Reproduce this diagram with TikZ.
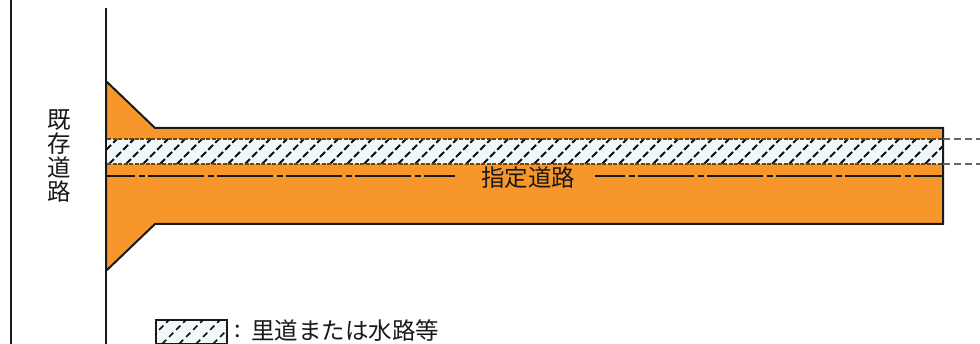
\documentclass[tikz,border=0pt]{standalone}
\usepackage{fontspec}
\newfontfamily\cjk{Noto Sans CJK JP}
\tikzset{
  wall/.style={draw=black!90,line width=2pt},
  road/.style={fill=roadorange,draw=black!90,line width=2pt,line join=miter},
  bandedge/.style={draw=black!55!roadorange,line width=1.2pt,dash pattern=on 4pt off 1.5pt},
  hatchline/.style={draw=black!95,line width=1.9pt,dash pattern=on 7pt off 3pt},
  centre/.style={draw=black!90,line width=2pt,dash pattern=on 56pt off 4pt on 6pt off 3pt,dash phase=27pt},
  ext/.style={draw=black!60,line width=1.1pt,dash pattern=on 7pt off 4pt},
  label/.style={font=\cjk\fontsize{23.5}{24}\selectfont,text=black!90,inner sep=0pt},
}
\definecolor{roadorange}{HTML}{F7962B}
\definecolor{bandfill}{HTML}{F0F8FC}
\begin{document}
\begin{tikzpicture}[x=1pt,y=-1pt]
\useasboundingbox (0,0) rectangle (980,344);
% road
\draw[road] (106,81) -- (155,128) -- (943,128) -- (943,224) -- (155,224) -- (106,271) -- cycle;
% band
\fill[bandfill] (107,139) rectangle (943,164);
\begin{scope}
\clip (107,139) rectangle (942,164);
\foreach \i in {0,...,51}{
  \draw[hatchline] ({92+17*\i},164) -- ({92+17*\i+25},139);
}
\end{scope}
\draw[bandedge] (107,139) -- (943,139);
\draw[bandedge] (107,164) -- (943,164);
% outline redraw of right side
\draw[wall] (943,128) -- (943,224);
% walls
\draw[wall] (11,0) -- (11,344);
\draw[wall] (106,8) -- (106,344);
% extension lines
\coordinate (e1a) at (943,139); \coordinate (e1b) at (980,139);
\coordinate (e2a) at (943,164); \coordinate (e2b) at (980,164);
\draw[ext] (e1a) -- (e1b);
\draw[ext] (e2a) -- (e2b);
% centre line
\coordinate (c0) at (106,176); \coordinate (c1) at (943,176);
\node[label] (road) at (528,177.5) {指定道路};
\coordinate (g0) at (455,176); \coordinate (g1) at (595,176);
\draw[centre] (c0) -- (g0);
\draw[centre,dash phase=26pt] (g1) -- (c1);
% existing road label
\node[label,align=center] (exist) at (59,156) {既\\存\\道\\路};
% legend
\node[draw=black!90,line width=1.6pt,minimum width=71pt,minimum height=24pt,inner sep=0pt,fill=bandfill,anchor=north west] (key) at (155,319.5) {};
\begin{scope}
\clip (155,320) rectangle (226,344);
\foreach \i in {0,...,4}{
  \draw[draw=black!95,line width=1.6pt,dash pattern=on 6pt off 4pt] ({145+17*\i},344) -- ({145+17*\i+25},319);
}
\end{scope}
\node[label,anchor=west] (colon) at (234,331) {:};
\node[label,anchor=west] (legend) at (251,331) {里道または水路等};
\end{tikzpicture}
\end{document}
